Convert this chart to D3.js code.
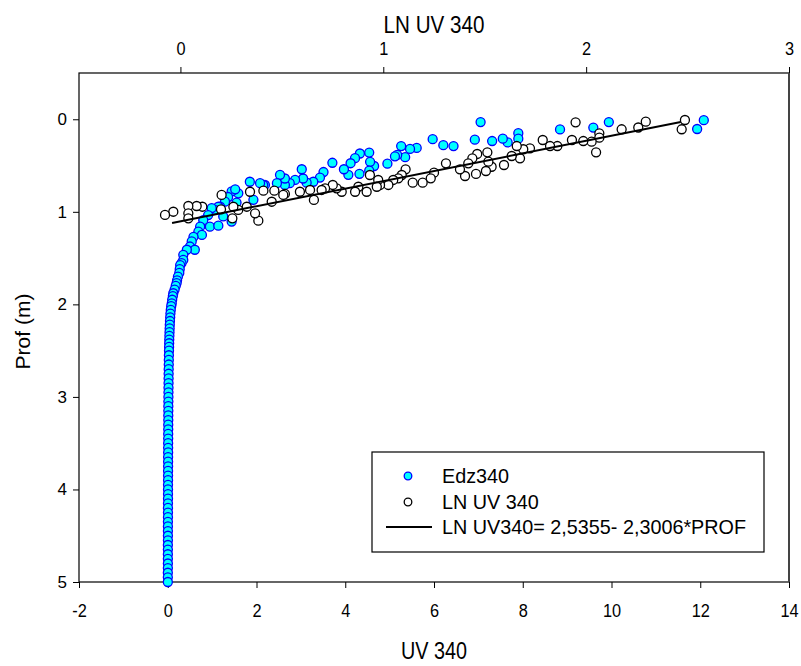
<!DOCTYPE html>
<html>
<head>
<meta charset="utf-8">
<script src="https://cdn.jsdelivr.net/npm/d3@7"></script>
<style>
  html, body { margin: 0; padding: 0; background: #fff; }
  svg { display: block; }
  text { font-family: "Liberation Sans", Arial, sans-serif; fill: #000; }
</style>
</head>
<body>
<svg id="chart" width="801" height="666"></svg>
<script>
// Edz340 profile: depth (m) and irradiance UV 340
const edzDepth = [
  0.01, 0.105, 0.03, 0.09, 0.11, 0.15, 0.21, 0.25, 0.21, 0.235,
  0.03, 0.22, 0.29, 0.28, 0.215, 0.31, 0.32, 0.41, 0.29, 0.385,
  0.40, 0.48, 0.505, 0.46, 0.36, 0.555, 0.37, 0.59, 0.42, 0.475,
  0.60, 0.54, 0.47, 0.57, 0.63, 0.675, 0.685, 0.64, 0.54, 0.655,
  0.69, 0.71, 0.64, 0.60, 0.69, 0.71, 0.71, 0.69, 0.675, 0.87,
  0.80, 0.78, 0.757, 0.84, 0.90, 0.89, 0.945, 0.945, 0.98, 0.96,
  1.035, 1.16, 1.15, 1.05, 1.105, 1.09, 1.16, 1.215, 1.25, 1.27,
  1.32, 1.375, 1.41, 1.41, 1.465, 1.52, 1.555, 1.575,
  1.62, 1.66, 1.70, 1.74, 1.77, 1.80, 1.84, 1.88, 1.91, 1.95,
  1.99, 2.02, 2.06, 2.10, 2.14, 2.18, 2.22, 2.26, 2.30, 2.34,
  2.38, 2.42, 2.46, 2.50, 2.55, 2.60, 2.65, 2.70, 2.75, 2.80,
  2.85, 2.90, 2.95, 3.00, 3.05, 3.10, 3.15, 3.20, 3.25, 3.30,
  3.35, 3.40, 3.45, 3.50, 3.55, 3.60, 3.65, 3.70, 3.75, 3.80,
  3.85, 3.90, 3.95, 4.00, 4.05, 4.10, 4.15, 4.20, 4.25, 4.30,
  4.35, 4.40, 4.45, 4.50, 4.55, 4.60, 4.65, 4.70, 4.75, 4.80,
  4.85, 4.90, 4.95, 5.00
];
const edzUV = [
  12.08, 11.93, 9.94, 9.59, 8.84, 7.90, 7.90, 7.66, 7.55, 7.31,
  7.05, 6.92, 6.44, 6.21, 5.97, 5.61, 5.46, 5.35, 5.26, 5.17,
  5.12, 4.95, 4.65, 4.56, 4.54, 4.54, 4.33, 4.32, 4.22, 4.12,
  4.07, 3.97, 3.71, 3.51, 3.43, 3.28, 3.13, 3.05, 3.02, 2.87,
  2.75, 2.64, 2.64, 2.53, 2.46, 2.19, 2.15, 2.08, 1.85, 1.93,
  1.59, 1.44, 1.52, 1.36, 1.55, 1.29, 1.18, 1.14, 1.06, 0.99,
  0.91, 0.95, 1.14, 1.25, 1.44, 0.80, 0.73, 0.69, 0.77, 0.58,
  0.54, 0.50, 0.61, 0.43, 0.35, 0.35, 0.31, 0.28,
  0.27, 0.26, 0.23, 0.21, 0.20, 0.18, 0.155, 0.125, 0.115, 0.10,
  0.09, 0.078, 0.068, 0.060, 0.055, 0.050, 0.046, 0.043, 0.040, 0.037,
  0.034, 0.032, 0.030, 0.028, 0.026, 0.024, 0.023, 0.021, 0.020, 0.019,
  0.018, 0.017, 0.016, 0.015, 0.014, 0.013, 0.013, 0.012, 0.012, 0.011,
  0.011, 0.010, 0.010, 0.009, 0.009, 0.009, 0.008, 0.008, 0.008, 0.007,
  0.007, 0.007, 0.006, 0.006, 0.006, 0.006, 0.005, 0.005, 0.005, 0.005,
  0.004, 0.004, 0.004, 0.004, 0.004, 0.003, 0.003, 0.003, 0.003, 0.003,
  0.003, 0.002, 0.002, 0.002
];

// LN UV 340 profile: depth (m) and natural log of UV 340
const lnDepth = [
  0.008, 0.108, 0.026, 0.089, 0.108, 0.152, 0.199, 0.357, 0.242, 0.235,
  0.033, 0.224, 0.289, 0.289, 0.224, 0.314, 0.324, 0.422, 0.289, 0.397,
  0.494, 0.513, 0.458, 0.357, 0.559, 0.375, 0.591, 0.422, 0.476, 0.613,
  0.541, 0.476, 0.577, 0.638, 0.685, 0.685, 0.541, 0.602, 0.638, 0.656,
  0.710, 0.710, 0.656, 0.729, 0.602, 0.783, 0.729, 0.783, 0.783, 0.746,
  0.710, 0.746, 0.764, 0.872, 0.764, 0.783, 0.807, 0.818, 0.772, 0.891,
  0.772, 1.096, 1.016, 0.783, 0.945, 0.980, 0.945, 1.070, 0.818, 0.973,
  0.945, 0.937, 0.937, 1.016, 1.070, 0.999, 1.034
];
const lnValue = [
  2.487, 2.471, 2.294, 2.257, 2.175, 2.065, 2.065, 2.049, 2.027, 1.986,
  1.948, 1.930, 1.858, 1.822, 1.786, 1.723, 1.690, 1.674, 1.658, 1.633,
  1.595, 1.534, 1.518, 1.513, 1.506, 1.463, 1.457, 1.439, 1.419, 1.403,
  1.378, 1.309, 1.250, 1.234, 1.194, 1.145, 1.110, 1.091, 1.074, 1.049,
  1.025, 0.984, 0.975, 0.968, 0.934, 0.918, 0.877, 0.861, 0.795, 0.770,
  0.751, 0.713, 0.696, 0.658, 0.639, 0.589, 0.515, 0.507, 0.463, 0.450,
  0.409, 0.384, 0.368, 0.343, 0.327, 0.285, 0.261, 0.256, 0.203, 0.200,
  0.108, 0.080, 0.039, 0.039, 0.039, -0.035, -0.076
];

// Regression LN UV340 = a - b * PROF, drawn across the sampled depth range
const fitIntercept = 2.5355;
const fitSlope = 2.3006;
const fitDepthRange = [0.03, 1.12];

const bottomTicks = [-2, 0, 2, 4, 6, 8, 10, 12, 14];
const topTicks = [0, 1, 2, 3];
const leftTicks = [0, 1, 2, 3, 4, 5];

const legendLabels = ["Edz340", "LN UV 340", "LN UV340= 2,5355- 2,3006*PROF"];

const svg = d3.select("#chart");
const L = 79, R = 789, T = 73, B = 582;
const narrow = 0.86;           // horizontal squeeze for the condensed x-axis lettering
const fmt = d => String(d);    // plain hyphen for negatives

const x = d3.scaleLinear().domain([-2, 14]).range([L, R]);
const xTop = d3.scaleLinear().domain([-0.5, 3]).range([L, R]);
const y = d3.scaleLinear().domain([-0.5, 5]).range([T, B]);

// Axes
const gB = svg.append("g").attr("transform", `translate(0,${B})`)
  .call(d3.axisBottom(x).tickValues(bottomTicks).tickSize(6).tickSizeOuter(0).tickFormat(fmt));
gB.selectAll("text").attr("y", 0).attr("dy", 0)
  .attr("transform", `translate(0,35) scale(${narrow},1)`).attr("font-size", 19);

const gT = svg.append("g").attr("transform", `translate(0,${T})`)
  .call(d3.axisTop(xTop).tickValues(topTicks).tickSize(6).tickSizeOuter(0).tickFormat(fmt));
gT.selectAll("text").attr("y", 0).attr("dy", 0)
  .attr("transform", `translate(0,-18) scale(${narrow},1)`).attr("font-size", 19);

const gL = svg.append("g").attr("transform", `translate(${L},0)`)
  .call(d3.axisLeft(y).tickValues(leftTicks).tickSize(6).tickSizeOuter(0).tickFormat(fmt));
gL.selectAll("text").attr("x", -12).attr("font-size", 17);

[gB, gT, gL].forEach(g => {
  g.select(".domain").remove();
  g.selectAll("line").attr("stroke", "#000").attr("stroke-width", 1);
  g.selectAll("text").attr("fill", "#000").style("font-family", '"Liberation Sans", Arial, sans-serif');
});

// Frame
svg.append("rect")
  .attr("x", L).attr("y", T).attr("width", R - L).attr("height", B - T)
  .attr("fill", "none").attr("stroke", "#000").attr("stroke-width", 1.2);
svg.append("line").attr("x1", R).attr("x2", R).attr("y1", T).attr("y2", B)
  .attr("stroke", "#444").attr("stroke-width", 2);

// Axis titles
svg.append("text")
  .attr("transform", `translate(${(L + R) / 2},33) scale(${narrow},1)`)
  .attr("text-anchor", "middle").attr("font-size", 24).text("LN UV 340");
svg.append("text")
  .attr("transform", `translate(${(L + R) / 2},659) scale(${narrow},1)`)
  .attr("text-anchor", "middle").attr("font-size", 23).text("UV 340");
svg.append("text")
  .attr("transform", `translate(30,${(T + B) / 2 + 4}) rotate(-90)`)
  .attr("text-anchor", "middle").attr("font-size", 21).text("Prof (m)");

const plot = svg.append("g");

// Edz340 points
const edz = edzDepth.map((d, i) => ({ depth: d, v: edzUV[i] }));
plot.selectAll("circle.edz").data(edz).join("circle")
  .attr("class", "edz")
  .attr("cx", d => x(d.v)).attr("cy", d => y(d.depth)).attr("r", 4.5)
  .attr("fill", "#00ffff").attr("stroke", "#0000ff").attr("stroke-width", 1.3);

// LN UV 340 points
const ln = lnDepth.map((d, i) => ({ depth: d, v: lnValue[i] }));
plot.selectAll("circle.ln").data(ln).join("circle")
  .attr("class", "ln")
  .attr("cx", d => xTop(d.v)).attr("cy", d => y(d.depth)).attr("r", 4.5)
  .attr("fill", "#fff").attr("stroke", "#000").attr("stroke-width", 1.3);

// Regression line
const fitPts = fitDepthRange.map(p => ({ depth: p, v: fitIntercept - fitSlope * p }));
plot.append("path")
  .datum(fitPts)
  .attr("d", d3.line().x(d => xTop(d.v)).y(d => y(d.depth)))
  .attr("fill", "none").attr("stroke", "#000").attr("stroke-width", 2);

// Legend
const lg = svg.append("g");
lg.append("rect").attr("x", 372).attr("y", 452).attr("width", 392).attr("height", 100)
  .attr("fill", "#fff").attr("stroke", "#000").attr("stroke-width", 1.2);
lg.append("circle").attr("cx", 408).attr("cy", 476).attr("r", 3.8)
  .attr("fill", "#00ffff").attr("stroke", "#0000ff").attr("stroke-width", 1.3);
lg.append("circle").attr("cx", 408).attr("cy", 502).attr("r", 3.8)
  .attr("fill", "#fff").attr("stroke", "#000").attr("stroke-width", 1.3);
lg.append("line").attr("x1", 386).attr("x2", 432).attr("y1", 527).attr("y2", 527)
  .attr("stroke", "#000").attr("stroke-width", 2);
legendLabels.forEach((t, i) => {
  lg.append("text")
    .attr("x", 442).attr("y", 483 + i * 25.5)
    .attr("font-size", 19.8).text(t);
});
</script>
</body>
</html>
